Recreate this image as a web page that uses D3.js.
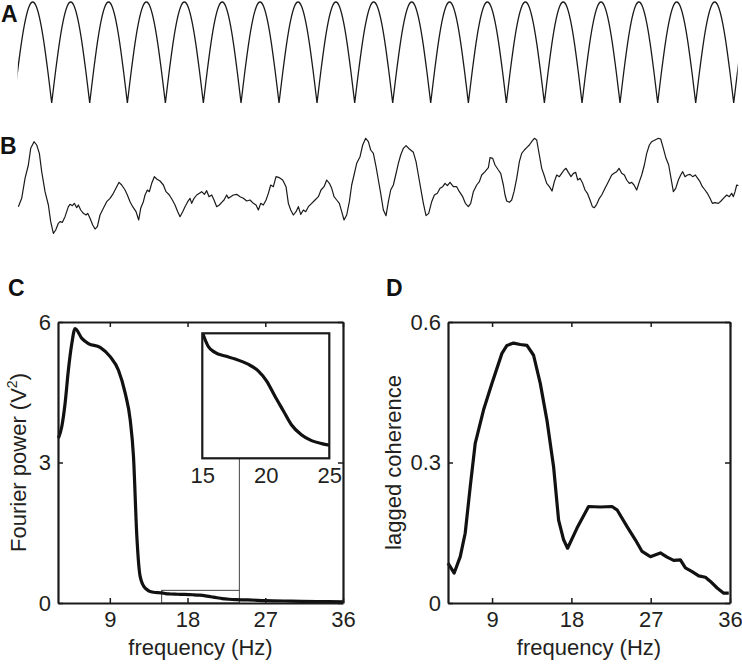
<!DOCTYPE html>
<html><head><meta charset="utf-8">
<script src="https://cdn.jsdelivr.net/npm/d3@7"></script>
<style>body{margin:0;background:#fff}svg{display:block}</style>
</head><body>
<svg id="chart" width="742" height="664"></svg>
<script>
// ---------- DATA ----------
// Panel A: times (ms) of the troughs of the rectified oscillation, and one arch profile
const aTroughTimes = [-12,102,216,329,443,557,670,784,898,1011,1125,1239,1352,1466,1580,1693,1807,1920,2034,2148,2262];
const aArchPhase   = [0,0.05,0.1,0.2,0.3,0.4,0.5,0.6,0.7,0.8,0.9,0.95,1];
const aArchValue   = [0,0.156,0.309,0.588,0.809,0.951,1,0.951,0.809,0.588,0.309,0.156,0];
const timeRange    = [0,2160];

// Panel B: noisy trace (ms, µV-like units)
const bTime = [2,12,22,32,39,49,57,65,72,82,92,99,107,114,122,127,134,142,152,157,164,170,177,182,189,197,205,210,217,225,232,239,247,257,267,277,287,297,304,312,322,329,337,345,355,363,369,377,382,389,395,402,410,417,427,437,445,455,464,472,480,487,495,502,510,517,522,529,537,545,552,560,567,574,582,589,597,605,612,619,627,632,639,647,657,667,677,687,697,707,
715,722,729,737,745,752,759,767,775,785,795,805,812,819,827,835,842,849,857,864,872,882,892,902,910,919,927,935,942,949,957,965,972,979,987,995,1002,1009,1017,1027,1035,1044,1052,1059,1067,1075,1082,1089,1097,1105,1112,1119,1127,1134,1142,1149,1157,1165,1175,1187,1195,1202,1209,1217,1225,1233,1242,1250,1259,1267,1275,1282,1289,1297,1307,1317,1325,1335,1343,1352,1359,1367,1377,1385,1392,1402,1412,
1417,1425,1432,1442,1449,1457,1462,1467,1475,1482,1489,1497,1505,1512,1520,1527,1535,1542,1550,1557,1565,1572,1579,1587,1595,1603,1610,1617,1625,1632,1639,1645,1652,1660,1667,1674,1680,1687,1695,1702,1709,1717,1724,1730,1737,1745,1752,1762,1772,1782,1789,1797,1804,1812,1820,1827,1835,1842,1849,1857,1865,1872,1880,1887,1895,1902,1912,1922,1929,1937,1945,1953,1960,1967,1974,1982,1989,1995,2002,2009,2017,2025,2033,2040,2047,2054,2062,2069,2077,2084,2092,2102,2110,2117,2127,2135,2142,2147,2152,2157,2162];
const bValue = [-62,-37,23,63,113,133,123,98,43,-17,-57,-107,-142,-132,-112,-107,-109,-92,-62,-55,-59,-52,-65,-57,-72,-82,-87,-82,-97,-117,-129,-122,-87,-67,-47,-37,-22,-2,11,3,-12,-27,-47,-62,-77,-102,-67,-47,-27,-12,-17,8,28,21,15,3,-17,-27,-42,-57,-77,-92,-77,-62,-47,-37,-52,-37,-27,-22,-17,-25,-14,-32,-27,-42,-62,-57,-49,-42,-27,-37,-32,-27,-25,-32,-37,-45,-42,-52,
-57,-72,-52,-57,-42,-22,3,-2,28,25,18,-2,-52,-72,-87,-77,-62,-85,-72,-77,-62,-52,-42,-32,-12,-2,18,8,-7,-32,-42,-52,-77,-102,-87,-47,3,33,68,88,123,143,133,108,98,58,18,-22,-72,-89,-47,-12,3,33,68,93,113,121,111,101,73,33,-7,-52,-89,-82,-47,-27,-22,-7,-2,8,1,11,-2,-2,-17,-32,-52,-62,-52,-17,3,13,33,43,55,
85,83,63,48,38,3,-27,-45,-49,-42,-17,23,73,98,108,115,123,133,143,138,93,53,33,8,-2,-15,13,33,28,38,48,53,41,28,38,41,18,23,8,-12,-22,-42,-62,-65,-55,-37,-27,-7,13,33,38,43,53,38,33,18,8,11,3,-12,13,33,63,98,123,133,138,143,141,113,83,63,23,-17,-7,18,33,43,28,33,35,28,33,23,13,-2,-12,-22,-37,-52,-50,-52,-45,-37,-27,-32,-22,-32,-17,3,1];

// Panel C: Fourier power (V^2) vs frequency (Hz)
const cFreq  = [3.05,3.44,3.82,4.2,4.6,4.98,5.76,6.52,7.88,9.04,10.0,10.78,11.36,11.74,12.13,12.51,13.09,14.05,15.05,15.47,16.0,16.8,17.6,18.6,19.4,20.07,20.7,21.4,22.0,22.8,23.6,24.4,25.0,27,30,33,36];
const cPower = [3.52,3.77,4.26,4.97,5.54,5.86,5.65,5.54,5.46,5.26,4.97,4.48,3.91,3.13,1.42,0.57,0.32,0.23,0.217,0.2,0.192,0.187,0.183,0.176,0.167,0.153,0.133,0.112,0.094,0.08,0.072,0.068,0.066,0.05,0.04,0.032,0.025];
const cXTicks = [9,18,27,36];
const cYTicks = [0,3,6];
const insetXTicks = [15,20,25];
const insetXDomain = [15,25];
const insetYDomain = [0.048,0.218];
const zoomBoxHz = [15,24];
const zoomBoxTop = 0.27;

// Panel D: lagged coherence vs frequency (Hz)
const dFreq = [4.0,4.7,5.39,5.95,6.52,7.09,8.03,8.99,10.12,10.69,11.44,12.2,12.96,13.71,14.47,15.23,15.98,16.55,17.12,17.57,18.64,19.95,21.28,22.61,23.18,24.32,25.26,26.02,26.96,28.1,28.86,29.61,30.37,30.94,31.7,32.45,33.21,33.78,34.54,35.29,35.86];
const dCoh  = [0.085,0.064,0.099,0.149,0.248,0.341,0.412,0.469,0.533,0.550,0.555,0.552,0.550,0.529,0.469,0.39,0.291,0.177,0.135,0.117,0.16,0.206,0.205,0.206,0.199,0.163,0.135,0.11,0.099,0.107,0.098,0.091,0.092,0.075,0.067,0.058,0.055,0.046,0.032,0.021,0.021];
const dXTicks = [9,18,27,36];
const dYTicks = [0,0.3,0.6];

// ---------- DRAW ----------
const FONT = "'Liberation Sans',Arial,sans-serif";
const INK = "#1a1a1a";
const svg = d3.select('#chart');

// panel letters
[["A",1,22],["B",0,154],["C",8,296],["D",386,296]].forEach(([t,x,y])=>{
  svg.append('text').text(t).attr('x',x).attr('y',y)
    .attr('font-family',"'Liberation Sans',Arial,sans-serif").attr('font-weight','bold')
    .attr('font-size',23).attr('fill','#111');
});

// A
const xT = d3.scaleLinear().domain(timeRange).range([17.7,737.7]);
const yA = d3.scaleLinear().domain([0,1]).range([103,2]);
svg.append('clipPath').attr('id','clipT').append('rect')
  .attr('x',xT(timeRange[0])).attr('y',0).attr('width',xT(timeRange[1])-xT(timeRange[0])).attr('height',250);
const archLine = d3.line().x(d=>xT(d[0])).y(d=>yA(d[1])).curve(d3.curveNatural);
let dA = '';
for(let i=0;i<aTroughTimes.length-1;i++){
  const t0=aTroughTimes[i], t1=aTroughTimes[i+1];
  dA += archLine(aArchPhase.map((p,j)=>[t0+p*(t1-t0), aArchValue[j]]));
}
svg.append('path').attr('d',dA).attr('clip-path','url(#clipT)')
  .attr('fill','none').attr('stroke',INK).attr('stroke-width',1.3);

// B
const yB = d3.scaleLinear().domain([-150,150]).range([236,136]);
svg.append('path').datum(bTime.map((t,i)=>[t,bValue[i]]))
  .attr('d',d3.line().x(d=>xT(d[0])).y(d=>yB(d[1])))
  .attr('fill','none').attr('stroke',INK).attr('stroke-width',1.2).attr('stroke-linejoin','round');

function frame(x,y,xt,yt,yfmt){
  const g = svg.append('g');
  const [x0,x1] = x.range(), [y0,y1] = y.range();
  g.append('g').attr('transform',`translate(0,${y0})`)
    .call(d3.axisBottom(x).tickValues(xt).tickSizeInner(-5).tickSizeOuter(0).tickPadding(8).tickFormat(d3.format('d')));
  g.append('g').attr('transform',`translate(0,${y1})`)
    .call(d3.axisTop(x).tickValues(xt).tickSizeInner(-5).tickSizeOuter(0).tickFormat(''));
  g.append('g').attr('transform',`translate(${x0},0)`)
    .call(d3.axisLeft(y).tickValues(yt).tickSizeInner(-5).tickSizeOuter(0).tickPadding(7).tickFormat(yfmt));
  g.append('g').attr('transform',`translate(${x1},0)`)
    .call(d3.axisRight(y).tickValues(yt).tickSizeInner(-5).tickSizeOuter(0).tickFormat(''));
  g.selectAll('.domain').attr('stroke',INK).attr('stroke-width',2.2);
  g.selectAll('.tick line').attr('stroke',INK).attr('stroke-width',1.5);
  g.selectAll('text').attr('font-size',22).attr('font-family',FONT).attr('fill','#231f20');
  return g;
}

// C
const xC = d3.scaleLinear().domain([3,36]).range([58,343]);
const yC = d3.scaleLinear().domain([0,6]).range([603,322]);
svg.append('rect').attr('x',xC(zoomBoxHz[0])).attr('y',yC(zoomBoxTop))
  .attr('width',xC(zoomBoxHz[1])-xC(zoomBoxHz[0])).attr('height',yC(0)-yC(zoomBoxTop))
  .attr('fill','none').attr('stroke','#444').attr('stroke-width',1);
svg.append('path').datum(cFreq.map((f,i)=>[f,cPower[i]]))
  .attr('d',d3.line().x(d=>xC(d[0])).y(d=>yC(d[1])).curve(d3.curveMonotoneX))
  .attr('fill','none').attr('stroke','#111').attr('stroke-width',3.2).attr('stroke-linejoin','round');
frame(xC,yC,cXTicks,cYTicks,d3.format('d'));
svg.append('text').attr('x',(58+343)/2).attr('y',655).attr('text-anchor','middle')
  .attr('font-family',FONT).attr('font-size',22).attr('fill','#231f20').text('frequency (Hz)');
const cyl = svg.append('text').attr('transform',`translate(26,${(322+603)/2}) rotate(-90)`).attr('text-anchor','middle')
  .attr('font-family',FONT).attr('font-size',22).attr('fill','#231f20');
cyl.append('tspan').text('Fourier power (V');
cyl.append('tspan').text('2').attr('font-size',14).attr('dy',-9);
cyl.append('tspan').text(')').attr('dy',9);

// inset
const xI = d3.scaleLinear().domain(insetXDomain).range([202.3,329.3]);
const yI = d3.scaleLinear().domain(insetYDomain).range([458.3,333.3]);
svg.append('line').attr('x1',xC(zoomBoxHz[1])).attr('x2',xC(zoomBoxHz[1]))
  .attr('y1',yC(zoomBoxTop)).attr('y2',yI.range()[0]).attr('stroke','#444').attr('stroke-width',1);
svg.append('rect').attr('x',202.3).attr('y',333.3).attr('width',127).attr('height',125).attr('fill','#fff');
svg.append('clipPath').attr('id','clipI').append('rect').attr('x',202.3).attr('y',333.3).attr('width',127).attr('height',125);
const inPts = cFreq.map((f,i)=>[f,cPower[i]]).filter(d=>d[0]>=insetXDomain[0]-0.1 && d[0]<=insetXDomain[1]+0.1);
svg.append('path').datum(inPts).attr('clip-path','url(#clipI)')
  .attr('d',d3.line().x(d=>xI(d[0])).y(d=>yI(d[1])).curve(d3.curveMonotoneX))
  .attr('fill','none').attr('stroke','#111').attr('stroke-width',3.2);
svg.append('rect').attr('x',202.3).attr('y',333.3).attr('width',127).attr('height',125)
  .attr('fill','none').attr('stroke',INK).attr('stroke-width',2.2);
const gi = svg.append('g').attr('transform','translate(0,458.3)')
  .call(d3.axisBottom(xI).tickValues(insetXTicks).tickSize(0).tickPadding(9).tickFormat(d3.format('d')));
gi.select('.domain').remove();
gi.selectAll('text').attr('font-size',22).attr('font-family',FONT).attr('fill','#231f20');

// D
const xD = d3.scaleLinear().domain([4,36]).range([448,730]);
const yD = d3.scaleLinear().domain([0,0.6]).range([603,322]);
svg.append('path').datum(dFreq.map((f,i)=>[f,dCoh[i]]))
  .attr('d',d3.line().x(d=>xD(d[0])).y(d=>yD(d[1])))
  .attr('fill','none').attr('stroke','#111').attr('stroke-width',3.2).attr('stroke-linejoin','round');
frame(xD,yD,dXTicks,dYTicks,d=>d===0?'0':d3.format('.1f')(d));
svg.append('text').attr('x',(448+730)/2).attr('y',655).attr('text-anchor','middle')
  .attr('font-family',FONT).attr('font-size',22).attr('fill','#231f20').text('frequency (Hz)');
svg.append('text').attr('transform',`translate(401,${(322+603)/2}) rotate(-90)`).attr('text-anchor','middle')
  .attr('font-family',FONT).attr('font-size',22).attr('fill','#231f20').text('lagged coherence');
</script>
</body></html>
